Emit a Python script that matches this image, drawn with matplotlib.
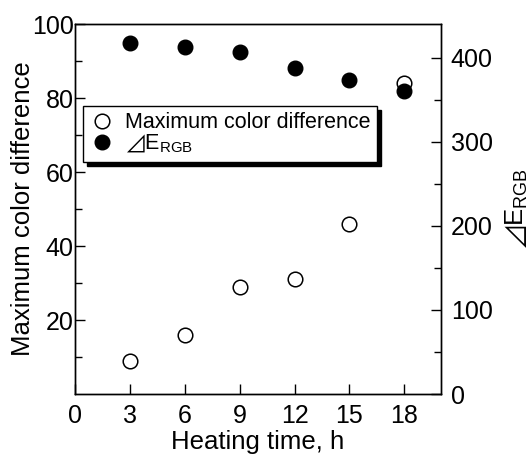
#!/usr/bin/env python3
# heating time vs maximum color difference and dE_RGB (two y axes)
import matplotlib
matplotlib.use("Agg")
import matplotlib.pyplot as plt

# data
heating_time = [3, 6, 9, 12, 15, 18]
max_color_diff = [9, 16, 29, 31, 46, 84]
delta_e_rgb = [417, 413, 407, 388, 373, 360]

x_ticks = [0, 3, 6, 9, 12, 15, 18]
left_ticks = [20, 40, 60, 80, 100]
right_ticks = [0, 100, 200, 300, 400]

plt.rcParams["font.family"] = ["Liberation Sans", "DejaVu Sans"]
plt.rcParams["mathtext.fontset"] = "custom"
plt.rcParams["mathtext.rm"] = "Liberation Sans"
plt.rcParams["mathtext.fallback"] = "stixsans"

# the triangle is only found through the mathtext fallback font
delta_label = "$\u22bf$E$_\\mathregular{RGB}$"

fig = plt.figure(figsize=(5.3, 4.54), dpi=100)
ax = fig.add_axes([75 / 530, 60 / 454, 366 / 530, 370 / 454])
ax2 = ax.twinx()

h1, = ax.plot(heating_time, max_color_diff, "o", ms=10.5, mfc="white",
              mec="black", mew=1.1, label="Maximum color difference", zorder=3)
h2, = ax2.plot(heating_time, delta_e_rgb, "o", ms=10.5, mfc="black",
               mec="black", label=delta_label, zorder=3)

ax.set_xlim(0, 20)
ax.set_ylim(0, 100)
ax2.set_ylim(0, 440)

ax.set_xticks(x_ticks)
ax.set_yticks(left_ticks)
ax.set_yticks([10, 30, 50, 70, 90], minor=True)
ax2.set_yticks(right_ticks)
ax2.set_yticks([50, 150, 250, 350], minor=True)

ax.tick_params(axis="both", which="both", direction="in", labelsize=18,
               top=False, right=False, width=1)
ax.tick_params(axis="x", which="major", length=7, pad=7)
ax.tick_params(axis="y", which="major", length=7, pad=1)
ax.tick_params(axis="y", which="minor", length=5)
ax2.tick_params(axis="y", which="both", direction="in", labelsize=18, width=1)
ax2.tick_params(axis="y", which="major", length=7, pad=7)
ax2.tick_params(axis="y", which="minor", length=5)

for a in (ax, ax2):
    for s in a.spines.values():
        s.set_linewidth(1)

ax.set_xlabel("Heating time, h", fontsize=18.5, labelpad=2)
ax.set_ylabel("Maximum color difference", fontsize=18.5, labelpad=-2)
ax2.set_ylabel(delta_label, fontsize=18.5, labelpad=8)

leg = ax.legend(handles=[h1, h2], loc="upper left",
                bbox_to_anchor=(0.022, 0.779), borderaxespad=0,
                fancybox=False, edgecolor="black", framealpha=1,
                fontsize=15.5, handletextpad=0.45, borderpad=0.3,
                labelspacing=0.0, handlelength=1.2,
                shadow={"color": "black", "alpha": 1, "ox": 3.2, "oy": -3.2})
leg.get_frame().set_linewidth(1)
leg.set_zorder(5)

fig.savefig("out.png", dpi=100)
plt.close(fig)
